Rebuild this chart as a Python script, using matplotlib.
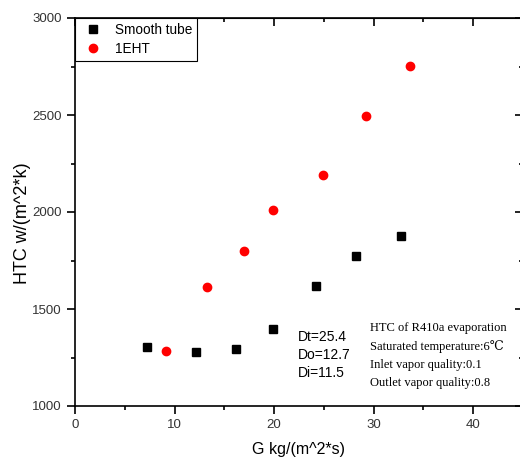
import matplotlib.pyplot as plt
from matplotlib.ticker import MultipleLocator

# mass flux G and heat transfer coefficient
g_smooth = [7.2, 12.2, 16.2, 19.9, 24.2, 28.2, 32.7]
htc_smooth = [1302, 1280, 1295, 1398, 1620, 1775, 1877]
g_ehT = [9.1, 13.3, 17.0, 19.9, 24.9, 29.2, 33.6]
htc_ehT = [1286, 1615, 1800, 2010, 2192, 2496, 2753]

tube_info = ['Dt=25.4', 'Do=12.7', 'Di=11.5']
conditions = ['HTC of R410a evaporation', 'Saturated temperature:6\u2103',
              'Inlet vapor quality:0.1', 'Outlet vapor quality:0.8']

plt.rcParams['font.family'] = ['Liberation Sans', 'DejaVu Sans']

fig = plt.figure(figsize=(5.2, 4.68), dpi=100)
ax = fig.add_axes([75/520, 62/468, 448/520, 388/468])

ax.plot(g_smooth, htc_smooth, 's', color='black', markersize=5.5, label='Smooth tube')
ax.plot(g_ehT, htc_ehT, 'o', color='red', markersize=6, label='1EHT')

ax.set_xlim(0, 45)
ax.set_ylim(1000, 3000)
ax.xaxis.set_major_locator(MultipleLocator(10))
ax.xaxis.set_minor_locator(MultipleLocator(5))
ax.yaxis.set_major_locator(MultipleLocator(500))
ax.yaxis.set_minor_locator(MultipleLocator(250))
ax.tick_params(which='major', direction='out', length=6, width=1.2, labelsize=9.5,
               labelcolor='#333333')
ax.tick_params(which='minor', direction='out', length=3, width=1.2)

# inward ticks on top and right
top = ax.secondary_xaxis('top')
top.xaxis.set_major_locator(MultipleLocator(10))
top.xaxis.set_minor_locator(MultipleLocator(5))
top.tick_params(which='major', direction='in', length=6, width=1.2, labeltop=False)
top.tick_params(which='minor', direction='in', length=3, width=1.2)
right = ax.secondary_yaxis('right')
right.yaxis.set_major_locator(MultipleLocator(500))
right.yaxis.set_minor_locator(MultipleLocator(250))
right.tick_params(which='major', direction='in', length=6, width=1.2, labelright=False)
right.tick_params(which='minor', direction='in', length=3, width=1.2)

for s in ax.spines.values():
    s.set_linewidth(1.2)

ax.set_xlabel('G kg/(m^2*s)', fontsize=11.5, labelpad=8)
ax.set_ylabel('HTC w/(m^2*k)', fontsize=13)
ax.yaxis.set_label_coords(-0.098, 0.47)

leg = ax.legend(loc='upper left', borderaxespad=0, fontsize=9.8, fancybox=False,
                edgecolor='black', framealpha=1, handletextpad=0.6,
                borderpad=0.35, labelspacing=0.4)
leg.get_frame().set_linewidth(0.8)

ax.text(22.4, 1390, '\n'.join(tube_info), fontsize=10, va='top', linespacing=1.35)
ax.text(29.6, 1435, '\n'.join(conditions), fontsize=9, va='top',
        family=['Liberation Serif', 'DejaVu Serif'], linespacing=1.65)

fig.savefig('out.png', dpi=100)
